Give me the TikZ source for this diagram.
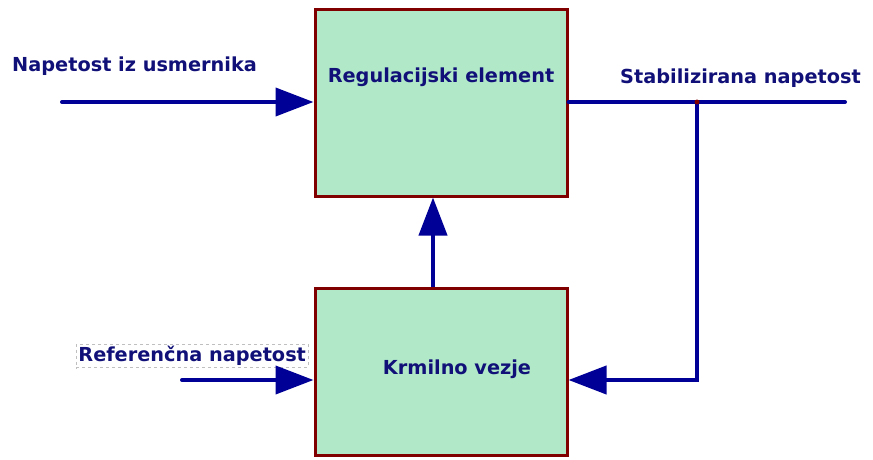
\documentclass[tikz,border=0pt]{standalone}
\usepackage{fontspec}
\setmainfont{DejaVu Sans}
\usetikzlibrary{arrows.meta}
\definecolor{boxfill}{RGB}{176,232,200}
\definecolor{boxedge}{RGB}{128,0,0}
\definecolor{wire}{RGB}{0,0,150}
\definecolor{txt}{RGB}{16,16,120}
\tikzset{
  blk/.style={draw=boxedge, line width=3pt, fill=boxfill, minimum width=252pt, inner sep=0pt},
  lbl/.style={text=txt, font=\bfseries\fontsize{19.3}{22}\selectfont, inner sep=1pt},
  wireline/.style={draw=wire, line width=4pt, line cap=round},
  arr/.style={wireline, -{Triangle[length=38pt,width=28pt]}}
}
\begin{document}
\begin{tikzpicture}[x=1pt,y=-1pt]
\useasboundingbox (0,0) rectangle (873,460);
\node[blk, minimum height=186pt] (reg) at (441,103) {};
\node[blk, minimum height=167pt] (krm) at (441,371.5) {};
\node[lbl] (regt) at (441,77) {Regulacijski element};
\node[lbl] (krmt) at (457,369) {Krmilno vezje};
\node[lbl, anchor=west] (inl) at (11,66) {Napetost iz usmernika};
\node[lbl, anchor=west] (outl) at (619,78) {Stabilizirana napetost};
\node[lbl, anchor=west, draw=gray!50, dashed, line width=0.8pt, inner sep=2pt] (refl) at (76,356) {Referenčna napetost};
\coordinate (in1) at (62,102);
\coordinate (out1) at (845,102);
\coordinate (jn) at (697,102);
\coordinate (fb) at (697,380);
\coordinate (ref1) at (182,380);
\draw[arr] (in1) -- (reg.west |- in1);
\draw[wireline] (reg.east |- out1) -- (out1);
\draw[arr, line cap=butt] (jn) -- (fb) -- (krm.east |- fb);
\draw[arr] (ref1) -- (krm.west |- ref1);
\draw[arr, line cap=butt] (krm.north -| 433,0) -- (reg.south -| 433,0);
\fill[boxedge] (jn) circle (2.5pt);
\end{tikzpicture}
\end{document}
